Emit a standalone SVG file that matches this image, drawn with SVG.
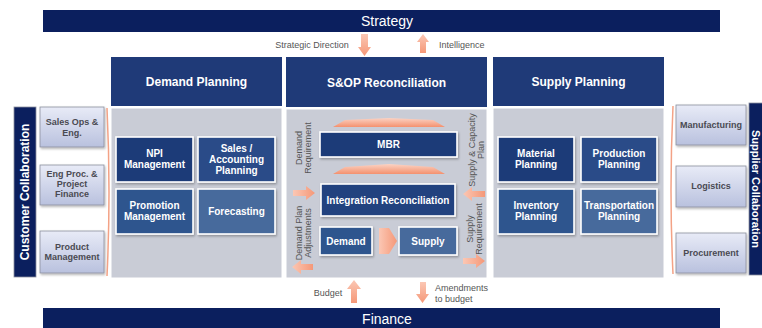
<svg xmlns="http://www.w3.org/2000/svg" width="762" height="328" viewBox="0 0 762 328">
  <defs>
    <linearGradient id="salmonV" x1="0" y1="0" x2="0" y2="1">
      <stop offset="0" stop-color="#fbc7b4"/>
      <stop offset="1" stop-color="#f59878"/>
    </linearGradient>
    <linearGradient id="salmonH" x1="0" y1="0" x2="1" y2="0">
      <stop offset="0" stop-color="#fbc7b4"/>
      <stop offset="1" stop-color="#f59878"/>
    </linearGradient>
    <linearGradient id="salmonFade" x1="0" y1="0" x2="0" y2="1">
      <stop offset="0" stop-color="#fbd3c4"/>
      <stop offset="1" stop-color="#f4916f"/>
    </linearGradient>
    <linearGradient id="lavender" x1="0" y1="0" x2="0" y2="1">
      <stop offset="0" stop-color="#e8ebf7"/>
      <stop offset="1" stop-color="#b9c1de"/>
    </linearGradient>
    <filter id="shadow" x="-10%" y="-10%" width="130%" height="130%">
      <feDropShadow dx="1" dy="1.5" stdDeviation="1" flood-color="#000" flood-opacity="0.3"/>
    </filter>
  </defs>
  <style>
    .bar { fill: #0b1f5e; }
    .barText { font-family: "Liberation Sans", Arial, sans-serif; font-size: 14px; fill: #ffffff; text-anchor: middle; }
    .header { fill: #1f3a78; }
    .headText { font-family: "Liberation Sans", Arial, sans-serif; font-size: 12px; font-weight: bold; fill: #ffffff; text-anchor: middle; }
    .body { fill: #c9ccd6; stroke: #ffffff; stroke-width: 1; }
    .box { stroke: #ffffff; stroke-width: 1.6; filter: url(#shadow); }
    .boxText { font-family: "Liberation Sans", Arial, sans-serif; font-size: 10px; font-weight: bold; fill: #ffffff; text-anchor: middle; }
    .side { fill: url(#lavender); stroke: #8c8f9e; stroke-width: 0.8; filter: url(#shadow); }
    .sideText { font-family: "Liberation Sans", Arial, sans-serif; font-size: 9px; font-weight: bold; fill: #4a4a52; text-anchor: middle; }
    .collab { fill: #0b1f5e; stroke: #8c8f9e; stroke-width: 0.8; }
    .collabText { font-family: "Liberation Sans", Arial, sans-serif; font-size: 12px; font-weight: bold; fill: #ffffff; text-anchor: middle; }
    .label { font-family: "Liberation Sans", Arial, sans-serif; font-size: 9px; fill: #555555; text-anchor: middle; }
    .labelL { font-family: "Liberation Sans", Arial, sans-serif; font-size: 9px; fill: #555555; text-anchor: start; }
    .arrV { fill: url(#salmonV); }
    .arrH { fill: url(#salmonH); }
    .ridge { fill: url(#salmonFade); }
    .bracket { fill: none; stroke: #f3a286; stroke-width: 1.5; }
  </style>

  <!-- top and bottom bands -->
  <g id="strategy">
    <rect class="bar" x="43" y="10" width="677" height="22"/>
    <text class="barText" x="387" y="26">Strategy</text>
  </g>
  <g id="finance">
    <rect class="bar" x="43" y="308" width="677" height="22"/>
    <text class="barText" x="387" y="324">Finance</text>
  </g>

  <!-- Customer collaboration -->
  <g id="customer-collaboration">
    <rect class="collab" x="14" y="107" width="22" height="170"/>
    <text class="collabText" transform="translate(29,192) rotate(-90)">Customer Collaboration</text>
  </g>
  <g id="sales-ops">
    <rect class="side" x="40" y="107" width="64" height="40"/>
    <text class="sideText" x="72" y="125">Sales Ops &amp;</text>
    <text class="sideText" x="72" y="136">Eng.</text>
  </g>
  <g id="eng-proc">
    <rect class="side" x="40" y="165" width="64" height="40"/>
    <text class="sideText" x="72" y="177">Eng Proc. &amp;</text>
    <text class="sideText" x="72" y="187">Project</text>
    <text class="sideText" x="72" y="197">Finance</text>
  </g>
  <g id="product-management">
    <rect class="side" x="40" y="231" width="64" height="42"/>
    <text class="sideText" x="72" y="250">Product</text>
    <text class="sideText" x="72" y="260">Management</text>
  </g>

  <!-- Demand planning -->
  <g id="demand-planning">
    <rect class="header" x="111" y="57" width="171" height="49"/>
    <text class="headText" x="196.5" y="86">Demand Planning</text>
    <rect class="body" x="111" y="108" width="171" height="170"/>
  </g>
  <g id="npi-management">
    <rect class="box" fill="#1f3a78" x="116" y="137" width="77" height="45"/>
    <text class="boxText" x="154.5" y="157">NPI</text>
    <text class="boxText" x="154.5" y="168">Management</text>
  </g>
  <g id="sales-accounting">
    <rect class="box" fill="#2a4c88" x="198" y="137" width="77" height="45"/>
    <text class="boxText" x="236.5" y="152">Sales /</text>
    <text class="boxText" x="236.5" y="163">Accounting</text>
    <text class="boxText" x="236.5" y="174">Planning</text>
  </g>
  <g id="promotion-management">
    <rect class="box" fill="#2d548e" x="116" y="189" width="77" height="45"/>
    <text class="boxText" x="154.5" y="209">Promotion</text>
    <text class="boxText" x="154.5" y="220">Management</text>
  </g>
  <g id="forecasting">
    <rect class="box" fill="#466a9c" x="198" y="189" width="77" height="45"/>
    <text class="boxText" x="236.5" y="215">Forecasting</text>
  </g>

  <!-- S&OP reconciliation -->
  <g id="sop-reconciliation">
    <rect class="header" x="286" y="57" width="201" height="50"/>
    <text class="headText" x="386.5" y="87">S&amp;OP Reconciliation</text>
    <rect class="body" x="286" y="109" width="201" height="169"/>
  </g>
  <g id="mbr">
    <rect class="box" fill="#1f3a78" x="320" y="132" width="137" height="25"/>
    <text class="boxText" x="388.5" y="148">MBR</text>
  </g>
  <g id="integration-reconciliation">
    <rect class="box" fill="#24437f" x="321" y="184" width="134" height="32"/>
    <text class="boxText" x="388" y="204">Integration Reconciliation</text>
  </g>
  <g id="demand">
    <rect class="box" fill="#2d548e" x="320" y="227" width="52" height="28"/>
    <text class="boxText" x="346" y="245">Demand</text>
  </g>
  <g id="supply">
    <rect class="box" fill="#466a9c" x="399" y="227" width="58" height="28"/>
    <text class="boxText" x="428" y="245">Supply</text>
  </g>

  <!-- Supply planning -->
  <g id="supply-planning">
    <rect class="header" x="493" y="57" width="171" height="49"/>
    <text class="headText" x="578.5" y="86">Supply Planning</text>
    <rect class="body" x="493" y="108" width="171" height="170"/>
  </g>
  <g id="material-planning">
    <rect class="box" fill="#1f3a78" x="498" y="137" width="76" height="45"/>
    <text class="boxText" x="536" y="157">Material</text>
    <text class="boxText" x="536" y="168">Planning</text>
  </g>
  <g id="production-planning">
    <rect class="box" fill="#2a4c88" x="581" y="137" width="76" height="45"/>
    <text class="boxText" x="619" y="157">Production</text>
    <text class="boxText" x="619" y="168">Planning</text>
  </g>
  <g id="inventory-planning">
    <rect class="box" fill="#2d548e" x="498" y="189" width="76" height="45"/>
    <text class="boxText" x="536" y="209">Inventory</text>
    <text class="boxText" x="536" y="220">Planning</text>
  </g>
  <g id="transportation-planning">
    <rect class="box" fill="#466a9c" x="581" y="189" width="76" height="45"/>
    <text class="boxText" x="619" y="209">Transportation</text>
    <text class="boxText" x="619" y="220">Planning</text>
  </g>

  <!-- Supplier collaboration -->
  <g id="manufacturing">
    <rect class="side" x="676" y="105" width="70" height="40"/>
    <text class="sideText" x="711" y="128">Manufacturing</text>
  </g>
  <g id="logistics">
    <rect class="side" x="676" y="166" width="70" height="41"/>
    <text class="sideText" x="711" y="189">Logistics</text>
  </g>
  <g id="procurement">
    <rect class="side" x="676" y="233" width="70" height="40"/>
    <text class="sideText" x="711" y="256">Procurement</text>
  </g>
  <g id="supplier-collaboration">
    <rect class="collab" x="749" y="103" width="20" height="172"/>
    <text class="collabText" style="font-size:11px" transform="translate(751.5,189) rotate(90)">Supplier Collaboration</text>
  </g>

  <!-- flows and their labels -->
  <g id="connectors">
    <path class="bracket" d="M107,108 Q111,192 107,276"/>
    <path class="bracket" d="M673,106 Q669,190 673,274"/>

    <!-- strategy flows -->
    <polygon class="arrV" points="361,34 368,34 368,47 371,47 364.5,56 358,47 361,47"/>
    <polygon class="arrV" points="420,53 426,53 426,42 429,42 423,34 417,42 420,42"/>
    <text class="label" x="312" y="48">Strategic Direction</text>
    <text class="labelL" x="439" y="48">Intelligence</text>

    <!-- finance flows -->
    <polygon class="arrV" points="351,303 357,303 357,289 361,289 354,280 347,289 351,289"/>
    <polygon class="arrV" points="420,282 426,282 426,294 429,294 422.5,303 416,294 420,294"/>
    <text class="label" x="328" y="296">Budget</text>
    <text class="labelL" x="435" y="291">Amendments</text>
    <text class="labelL" x="435" y="302">to budget</text>

    <!-- reconciliation flows -->
    <polygon class="ridge" points="333,127 345,120 389,118 433,120 445,127"/>
    <polygon class="ridge" points="333,174 345,167 389,164 433,167 445,174"/>
    <polygon class="arrH" points="379,228 389,228 397,241 389,254 379,254"/>
    <polygon class="arrH" points="293,190 306,190 306,186 315,193 306,200 306,196 293,196"/>
    <polygon class="arrH" points="313,264 301,264 301,260 292,267 301,274 301,270 313,270"/>
    <polygon class="arrH" points="485,191 472,191 472,187 463,194 472,201 472,197 485,197"/>
    <polygon class="arrH" points="463,258 476,258 476,254 485,261 476,268 476,264 463,264"/>

    <text class="label" transform="translate(302,148) rotate(-90)">Demand</text>
    <text class="label" transform="translate(311,148) rotate(-90)">Requirement</text>
    <text class="label" transform="translate(302,233) rotate(-90)">Demand Plan</text>
    <text class="label" transform="translate(311,233) rotate(-90)">Adjustments</text>
    <text class="label" transform="translate(475,150) rotate(-90)">Supply &amp; Capacity</text>
    <text class="label" transform="translate(484,150) rotate(-90)">Plan</text>
    <text class="label" transform="translate(473,229) rotate(-90)">Supply</text>
    <text class="label" transform="translate(482,229) rotate(-90)">Requirement</text>
  </g>
</svg>
